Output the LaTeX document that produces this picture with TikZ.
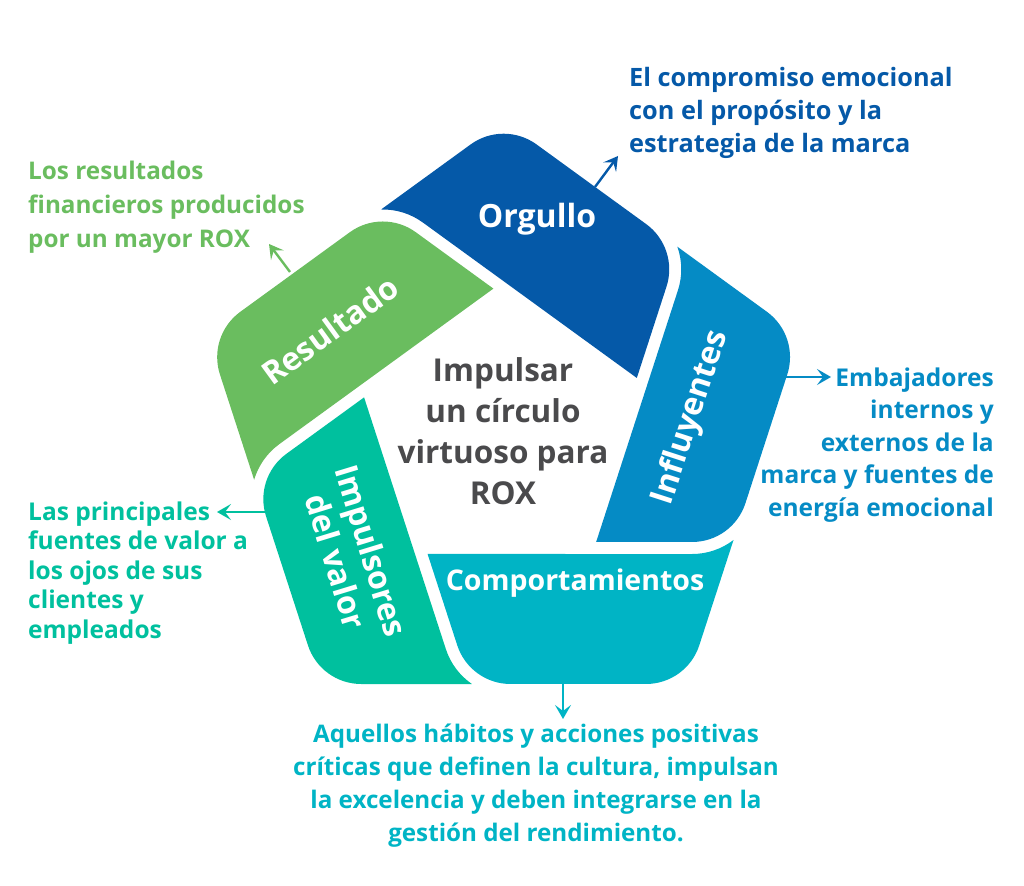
\documentclass[tikz,border=0pt]{standalone}
\usepackage{fontspec}
\setmainfont{Open Sans}
\usetikzlibrary{arrows.meta}
\definecolor{cOrg}{HTML}{0559A8}
\definecolor{cInf}{HTML}{058BC5}
\definecolor{cCom}{HTML}{00B4C5}
\definecolor{cImp}{HTML}{00C09E}
\definecolor{cRes}{HTML}{6ABD5F}
\definecolor{cGray}{HTML}{4A4A4C}
\begin{document}
\begin{tikzpicture}[x=1pt,y=1pt]
\tikzset{
  lbl/.style={text=white, font=\bfseries\fontsize{32}{37}\selectfont, inner sep=0pt},
  cap/.style={text=#1, font=\bfseries\fontsize{24.5}{33}\selectfont, inner sep=0pt},
  arr/.style={draw=#1, line width=2.4pt, -{Stealth[length=14pt,width=16pt,inset=6pt]}},
}
\useasboundingbox (0,0) rectangle (1024,885);
% five segments of the pinwheel
\foreach \k/\c in {0/cCom,1/cInf,2/cOrg,3/cRes,4/cImp}{
  \fill[\c, shift={(503.6,453)}, rotate=72*\k]
    (-76.02,-122) -- (-46.35,-213.3) arc[start angle=198,end angle=270,radius=56]
    -- (142.41,-252) arc[start angle=270,end angle=342,radius=56]
    -- (229.9,-108.0) arc[start angle=-52.56,end angle=-90,radius=68] -- cycle;
}
% labels in segments
\node[lbl] (tOrg) at (537,666) {Orgullo};
\node[lbl, rotate=36] (tRes) at (330,555) {Resultado};
\node[lbl, rotate=72] (tInf) at (691,467) {Influyentes};
\node[lbl, rotate=-73, align=center] (tImp) at (354,329) {Impulsores\\del valor};
\node[lbl, font=\bfseries\fontsize{28.5}{34}\selectfont] (tCom) at (575,302) {Comportamientos};
% centre
\node[font=\bfseries\fontsize{31.5}{41}\selectfont, text=cGray, align=center, inner sep=0pt] (ctr) at (503,454) {Impulsar\\un círculo\\virtuoso para\\ROX};
% captions
\node[cap=cOrg, align=left, anchor=west, font=\bfseries\fontsize{25.3}{33}\selectfont] (capOrg) at (629,772) {El compromiso emocional\\con el propósito y la\\estrategia de la marca};
\node[cap=cRes, align=left, anchor=west, font=\bfseries\fontsize{24.3}{34}\selectfont] (capRes) at (28,678) {Los resultados\\financieros producidos\\por un mayor ROX};
\node[cap=cInf, align=right, anchor=east, font=\bfseries\fontsize{24.5}{32.5}\selectfont] (capInf) at (994,440) {Embajadores\\internos y\\externos de la\\marca y fuentes de\\energía emocional};
\node[cap=cImp, align=left, anchor=west, font=\bfseries\fontsize{24.5}{29.5}\selectfont] (capImp) at (28,312) {Las principales\\fuentes de valor a\\los ojos de sus\\clientes y\\empleados};
\node[cap=cCom, align=center, font=\bfseries\fontsize{24.2}{33}\selectfont] (capCom) at (536,99) {Aquellos hábitos y acciones positivas\\críticas que definen la cultura, impulsan\\la excelencia y deben integrarse en la\\gestión del rendimiento.};
% arrow anchors
\coordinate (aOrg1) at (595,698);  \coordinate (aOrg2) at (618,729);
\coordinate (aRes1) at (290,613);  \coordinate (aRes2) at (269,641);
\coordinate (aInf1) at (785,508);  \coordinate (aInf2) at (831,508);
\coordinate (aImp1) at (267,373);  \coordinate (aImp2) at (217,373);
\coordinate (aCom1) at (563,202);  \coordinate (aCom2) at (563,166);
\draw[arr=cOrg] (aOrg1) -- (aOrg2);
\draw[arr=cRes] (aRes1) -- (aRes2);
\draw[arr=cInf] (aInf1) -- (aInf2);
\draw[arr=cImp] (aImp1) -- (aImp2);
\draw[arr=cCom] (aCom1) -- (aCom2);
\end{tikzpicture}
\end{document}
